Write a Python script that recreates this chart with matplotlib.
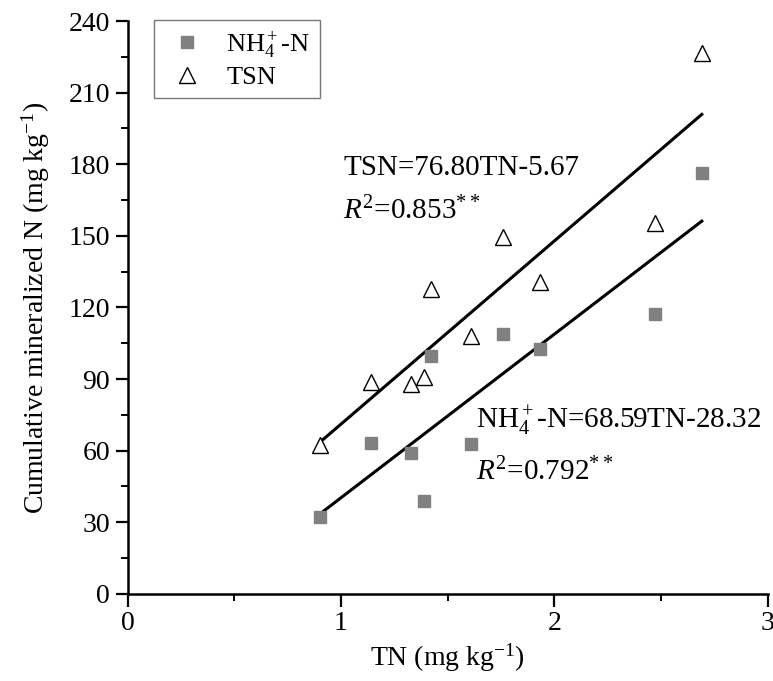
import matplotlib
matplotlib.use("Agg")
import matplotlib.pyplot as plt
import numpy as np
from matplotlib.ticker import MultipleLocator

plt.rcParams['font.family'] = 'Liberation Serif'
plt.rcParams['mathtext.fontset'] = 'custom'
plt.rcParams['mathtext.rm'] = 'Liberation Serif'
plt.rcParams['mathtext.it'] = 'Liberation Serif:italic'
plt.rcParams['mathtext.bf'] = 'Liberation Serif:bold'

# Data
tn = [0.90, 1.14, 1.33, 1.39, 1.42, 1.61, 1.76, 1.93, 2.47, 2.69]
nh4 = [32.4, 63.4, 58.9, 39.0, 99.7, 62.7, 108.9, 102.5, 117.3, 176.5]
tsn = [62.5, 88.9, 88.0, 91.0, 127.7, 108.2, 149.4, 130.8, 155.3, 226.7]

# Regression coefficients shown on the chart
tsn_slope, tsn_icpt = 76.80, -5.67
nh4_slope, nh4_icpt = 68.59, -28.32

fig = plt.figure(figsize=(7.73, 6.81), dpi=100)
ax = fig.add_axes([0.165, 0.128, 0.8285, 0.841])

ax.plot(tn, nh4, linestyle='none', marker='s', markersize=8,
        color='#808080', markeredgecolor='#808080', label=r'NH$_4^+$-N', zorder=3)
ax.plot(tn, tsn, linestyle='none', marker='^', markersize=12,
        markerfacecolor='white', markeredgecolor='black', markeredgewidth=1.0,
        label='TSN', zorder=3)

xfit = np.array([min(tn), max(tn)])
ax.plot(xfit, tsn_slope * xfit + tsn_icpt, color='black', linewidth=2.2, zorder=2)
ax.plot(xfit, nh4_slope * xfit + nh4_icpt, color='black', linewidth=2.2, zorder=2)

ax.text(1.01, 175.5, 'TSN=76.80TN-5.67', fontsize=21, ha='left', va='baseline')
ax.text(1.01, 157, r'$R^2$=0.853$^{**}$', fontsize=21, ha='left', va='baseline')
ax.text(1.632, 69.4, r'NH$_4^+$-N=68.59TN-28.32', fontsize=21, ha='left', va='baseline')
ax.text(1.632, 47.5, r'$R^2$=0.792$^{**}$', fontsize=21, ha='left', va='baseline')

ax.set_xlim(0, 3)
ax.set_ylim(0, 240)
ax.xaxis.set_major_locator(MultipleLocator(1))
ax.xaxis.set_minor_locator(MultipleLocator(0.5))
ax.yaxis.set_major_locator(MultipleLocator(30))
ax.yaxis.set_minor_locator(MultipleLocator(15))

for side in ['top', 'right']:
    ax.spines[side].set_visible(False)
for side in ['left', 'bottom']:
    ax.spines[side].set_linewidth(1.8)

ax.tick_params(which='major', direction='out', length=9, width=1.6, labelsize=20)
ax.tick_params(which='minor', direction='out', length=5, width=1.4)

ax.set_xlabel(r'TN (mg kg$^{-1}$)', fontsize=20, labelpad=4)
ax.set_ylabel(r'Cumulative mineralized N (mg kg$^{-1}$)', fontsize=20, labelpad=12)

leg = ax.legend(loc='upper left', bbox_to_anchor=(0.041, 1.002), fontsize=19,
                frameon=True, fancybox=False, edgecolor='#555555',
                borderaxespad=0, handletextpad=0.6, borderpad=0.35,
                labelspacing=0.2, handlelength=1.8)
leg.get_frame().set_linewidth(1.0)

fig.savefig('out.png', dpi=100)
